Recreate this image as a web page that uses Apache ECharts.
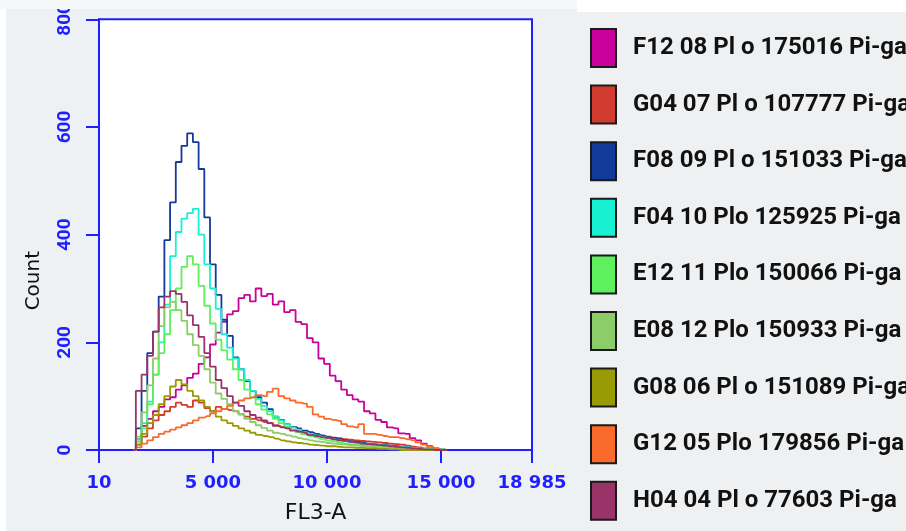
<!DOCTYPE html>
<html>
<head>
<meta charset="utf-8">
<script src="https://cdn.jsdelivr.net/npm/echarts@6/dist/echarts.min.js"></script>
<style>
  html, body { margin: 0; padding: 0; background: #ffffff; }
  #chart { width: 906px; height: 531px; }
</style>
</head>
<body>
<div id="chart"></div>
<script>
// FL3-A channel bins (bin centres)
const fl3Bins = [
  1500, 1750, 2000, 2250, 2500, 2750, 3000, 3250,
  3500, 3750, 4000, 4250, 4500, 4750, 5000, 5250,
  5500, 5750, 6000, 6250, 6500, 6750, 7000, 7250,
  7500, 7750, 8000, 8250, 8500, 8750, 9000, 9250,
  9500, 9750, 10000, 10250, 10500, 10750, 11000, 11250,
  11500, 11750, 12000, 12250, 12500, 12750, 13000, 13250,
  13500, 13750, 14000, 14250, 14500, 14750, 15000, 15250
];

// Event counts per bin, one array per sample
const countF12 = [
  0, 20, 45, 58, 72, 80, 94, 98,
  112, 120, 134, 142, 160, 172, 196, 218,
  238, 252, 258, 282, 288, 276, 300, 286,
  290, 270, 276, 256, 260, 238, 234, 208,
  200, 170, 160, 138, 128, 112, 102, 94,
  90, 72, 68, 56, 52, 42, 40, 31,
  30, 22, 18, 12, 7, 3, 1, 0
];
const countG04 = [
  0, 10, 25, 40, 55, 65, 72, 80,
  88, 84, 80, 92, 88, 78, 72, 80,
  76, 74, 72, 66, 62, 58, 55, 52,
  50, 46, 43, 40, 37, 35, 33, 30,
  28, 26, 25, 23, 22, 20, 19, 18,
  17, 16, 15, 14, 13, 12, 11, 10,
  8, 6, 5, 3, 2, 1, 0, 0
];
const countF08 = [
  0, 40, 110, 180, 220, 285, 390, 460,
  535, 565, 588, 572, 522, 432, 345, 288,
  242, 212, 172, 150, 128, 110, 98, 88,
  76, 62, 56, 48, 43, 40, 36, 33,
  30, 27, 24, 22, 20, 18, 16, 15,
  14, 12, 11, 10, 9, 8, 7, 6,
  5, 4, 3, 2, 2, 1, 0, 0
];
const countF04 = [
  0, 20, 50, 90, 140, 200, 270, 360,
  405, 430, 440, 448, 400, 345, 300, 262,
  215, 190, 170, 150, 130, 110, 95, 82,
  72, 62, 55, 48, 42, 38, 33, 30,
  27, 25, 22, 20, 18, 16, 15, 13,
  12, 11, 10, 9, 8, 7, 6, 6,
  5, 4, 3, 3, 2, 2, 1, 0
];
const countE12 = [
  0, 15, 40, 85, 140, 180, 215, 260,
  300, 340, 360, 345, 305, 268, 235, 205,
  185, 168, 150, 130, 112, 98, 85, 75,
  66, 58, 50, 44, 38, 33, 29, 26,
  23, 20, 18, 16, 14, 12, 11, 10,
  9, 8, 7, 6, 6, 5, 4, 4,
  3, 3, 2, 2, 1, 1, 1, 0
];
const countE08 = [
  0, 25, 70, 120, 170, 230, 265, 275,
  260, 240, 215, 195, 175, 150, 125, 105,
  95, 85, 72, 66, 58, 52, 46, 41,
  36, 32, 30, 27, 25, 22, 20, 18,
  16, 15, 13, 12, 11, 10, 9, 8,
  7, 6, 5, 5, 4, 3, 3, 2,
  2, 1, 1, 0, 0, 0, 0, 0
];
const countG08 = [
  0, 10, 30, 50, 65, 85, 100, 118,
  130, 122, 110, 100, 92, 80, 72, 62,
  55, 50, 45, 40, 36, 32, 28, 26,
  24, 21, 18, 16, 14, 13, 12, 10,
  9, 8, 7, 7, 6, 5, 5, 4,
  4, 3, 3, 2, 2, 1, 1, 0,
  0, 0, 0, 0, 0, 0, 0, 0
];
const countG12 = [
  0, 5, 12, 18, 24, 30, 34, 38,
  42, 46, 50, 55, 60, 63, 68, 72,
  76, 82, 88, 92, 96, 98, 102, 100,
  108, 114, 100, 96, 92, 88, 86, 80,
  66, 62, 58, 56, 54, 48, 44, 42,
  48, 30, 30, 28, 26, 24, 24, 22,
  20, 18, 14, 10, 6, 3, 0, 0
];
const countH04 = [
  0, 110, 140, 175, 220, 265, 285, 295,
  290, 275, 250, 232, 210, 180, 155, 130,
  115, 100, 88, 82, 72, 65, 60, 55,
  50, 45, 42, 40, 36, 34, 32, 28,
  26, 24, 22, 20, 18, 17, 15, 14,
  12, 11, 10, 9, 8, 7, 6, 5,
  4, 3, 2, 1, 1, 0, 0, 0
];

const sampleNames = [
  'F12 08 Pl o 175016 Pi-ga',
  'G04 07 Pl o 107777 Pi-ga',
  'F08 09 Pl o 151033 Pi-ga',
  'F04 10 Plo 125925 Pi-ga',
  'E12 11 Plo 150066 Pi-ga',
  'E08 12 Plo 150933 Pi-ga',
  'G08 06 Pl o 151089 Pi-ga',
  'G12 05 Plo 179856 Pi-ga',
  'H04 04 Pl o 77603 Pi-ga'
];
const sampleCounts = [countF12, countG04, countF08, countF04, countE12, countE08, countG08, countG12, countH04];
const sampleColors = ['#c8009c', '#d23c30', '#123a98', '#18f0d2', '#5ef05e', '#8ccd6a', '#9a9a04', '#fa6a2a', '#9a3468'];

// Axis ticks
const xTickValues = [10, 5000, 10000, 15000, 18985];
const xTickLabels = ['10', '5 000', '10 000', '15 000', '18 985'];

const axisBlue = '#1f1fff';

const chart = echarts.init(document.getElementById('chart'), null, { renderer: 'canvas' });

const series = sampleNames.map((name, k) => ({
  name: name,
  type: 'line',
  step: 'middle',
  symbol: 'none',
  showSymbol: false,
  color: sampleColors[k],
  lineStyle: { width: 1.8, color: sampleColors[k] },
  data: fl3Bins.map((b, i) => [b, sampleCounts[k][i]])
}));

chart.setOption({
  animation: false,
  backgroundColor: '#ffffff',
  graphic: [
    { type: 'rect', z: -100, shape: { x: 6, y: 9, width: 571, height: 522 }, style: { fill: '#edf1f4' } },
    { type: 'rect', z: -100, shape: { x: 577, y: 12, width: 329, height: 519 }, style: { fill: '#eef0f2' } },
    { type: 'rect', z: 100, shape: { x: 0, y: 0, width: 577, height: 9 }, style: { fill: '#f6f7f8' } }
  ],
  grid: {
    left: 99, top: 17, width: 433, height: 433,
    show: true, backgroundColor: '#ffffff',
    borderColor: axisBlue, borderWidth: 2
  },
  legend: {
    orient: 'vertical',
    left: 590, top: 28, padding: 0,
    itemWidth: 25, itemHeight: 38, itemGap: 16.6,
    icon: 'rect',
    selectedMode: false,
    itemStyle: { borderColor: '#1a1a1a', borderWidth: 2 },
    textStyle: {
      fontFamily: 'Roboto', fontWeight: 'bold',
      fontSize: 24, color: '#111111', padding: [0, 0, 0, 12]
    },
    data: sampleNames
  },
  xAxis: {
    type: 'value', min: 10, max: 18985,
    name: 'FL3-A', nameLocation: 'middle', nameGap: 52,
    nameTextStyle: { color: '#111111', fontFamily: 'DejaVu Sans', fontSize: 22 },
    axisLine: { show: true, lineStyle: { color: axisBlue, width: 2 } },
    axisTick: { show: true, customValues: xTickValues, length: 13, lineStyle: { color: axisBlue, width: 2 } },
    axisLabel: {
      customValues: xTickValues,
      formatter: v => xTickLabels[xTickValues.indexOf(v)],
      color: axisBlue, fontFamily: 'DejaVu Sans', fontWeight: 'bold', fontSize: 18, margin: 24
    },
    splitLine: { show: false }
  },
  yAxis: {
    type: 'value', min: 0, max: 800, interval: 200,
    name: 'Count', nameLocation: 'middle', nameRotate: 90, nameGap: 55,
    nameTextStyle: { color: '#111111', fontFamily: 'DejaVu Sans', fontSize: 20, padding: [0, 92, 0, 0] },
    axisLine: { show: true, lineStyle: { color: axisBlue, width: 2 } },
    axisTick: { show: true, length: 13, lineStyle: { color: axisBlue, width: 2 } },
    axisLabel: {
      rotate: 90, color: axisBlue, fontFamily: 'Roboto',
      fontWeight: 'bold', fontSize: 19, margin: 24
    },
    splitLine: { show: false }
  },
  series: series
});
</script>
</body>
</html>
